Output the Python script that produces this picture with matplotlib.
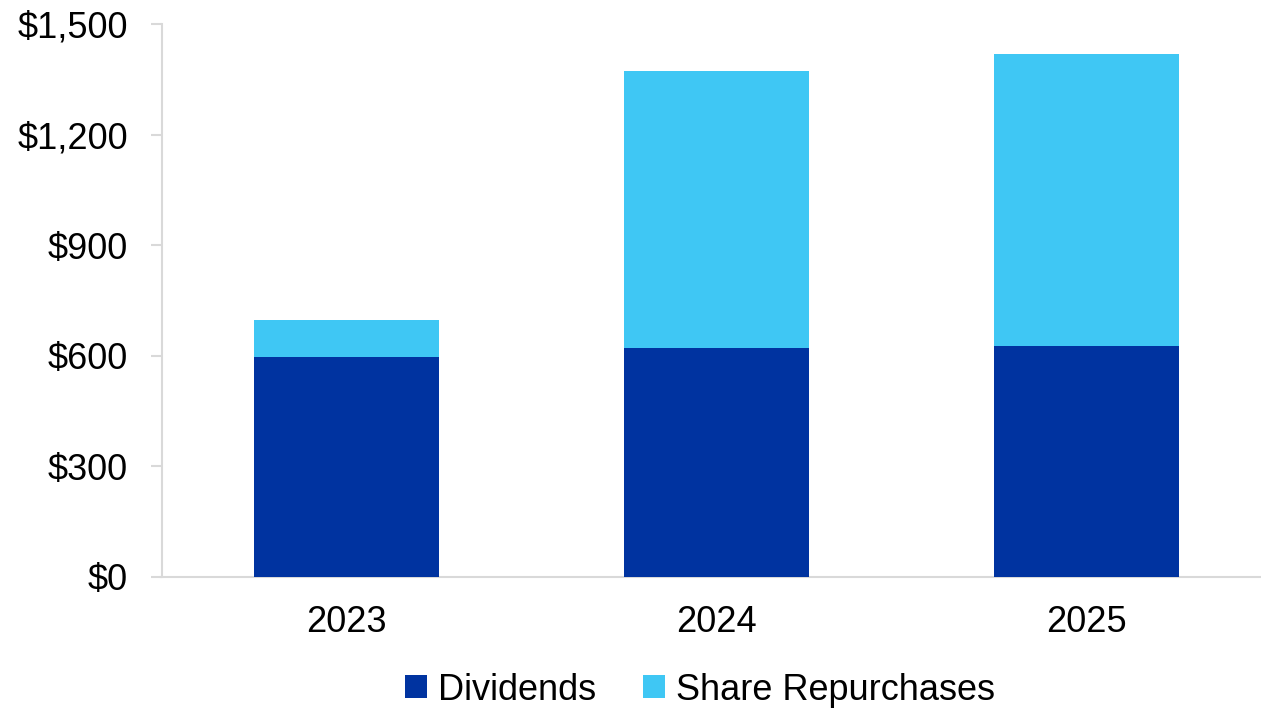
import matplotlib
matplotlib.use("Agg")
import matplotlib.pyplot as plt
import numpy as np

plt.rcParams['font.family'] = ['Liberation Sans', 'DejaVu Sans']

years = ["2023", "2024", "2025"]
dividends = [597, 622, 627]
repurchases = [100, 750, 791]
series_names = ["Dividends", "Share Repurchases"]
y_ticks = [0, 300, 600, 900, 1200, 1500]
y_tick_labels = ["$0", "$300", "$600", "$900", "$1,200", "$1,500"]

dark = "#0033A0"
light = "#3FC7F4"
grid_gray = "#D9D9D9"
fs = 26

W, H = 1261, 709
fig = plt.figure(figsize=(W / 100, H / 100), dpi=100)
ax_left, ax_right = 161.5, 1261
ax_top, ax_bottom = 24, 577
ax = fig.add_axes([ax_left / W, 1 - ax_bottom / H, (ax_right - ax_left) / W, (ax_bottom - ax_top) / H])

x = np.arange(len(years))
ax.bar(x, dividends, width=0.5, color=dark, label=series_names[0], zorder=3)
ax.bar(x, repurchases, width=0.5, bottom=dividends, color=light, label=series_names[1], zorder=3)

ax.set_xlim(-0.5, -0.5 + (ax_right - ax_left) / 370)
ax.set_ylim(0, 1500)
ax.set_yticks(y_ticks)
ax.set_yticklabels(y_tick_labels)
ax.set_xticks(x)
ax.set_xticklabels(years)

for s in ["top", "right"]:
    ax.spines[s].set_visible(False)
for s in ["left", "bottom"]:
    ax.spines[s].set_color(grid_gray)
    ax.spines[s].set_linewidth(1.5)

ax.tick_params(axis="y", length=8, width=1.5, color=grid_gray, pad=16, labelsize=fs, labelcolor="black")
ax.tick_params(axis="x", length=0, pad=20, labelsize=fs, labelcolor="black")

handles, labels = ax.get_legend_handles_labels()
fig.legend(handles, labels, loc="center", bbox_to_anchor=(700 / W, 1 - 690 / H),
           ncol=2, frameon=False, fontsize=fs, handlelength=0.62, handleheight=0.62,
           handletextpad=0.3, columnspacing=1.3, borderaxespad=0)

fig.savefig("out.png", dpi=100)
